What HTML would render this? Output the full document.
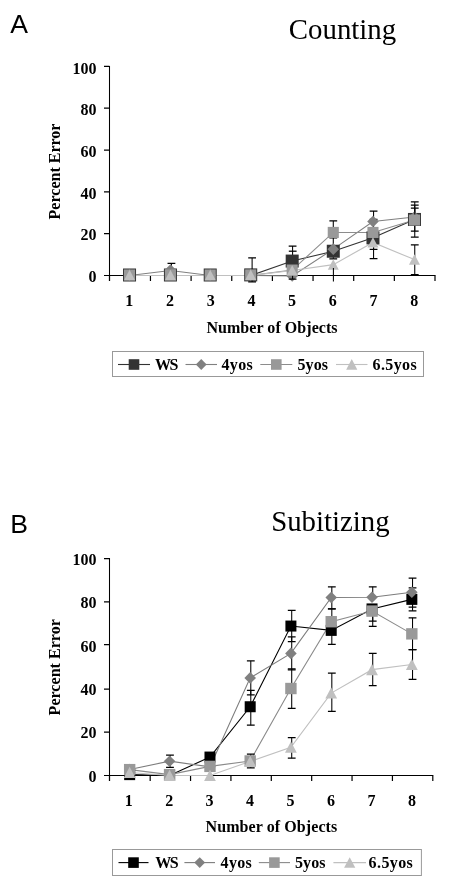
<!DOCTYPE html>
<html><head><meta charset="utf-8"><title>Figure</title>
<style>
html,body{margin:0;padding:0;background:#fff;}
body{width:450px;height:885px;overflow:hidden;}
svg{display:block;will-change:transform;}
text{font-family:"Liberation Serif",serif;fill:#000;}
.b{font-weight:bold;font-size:16px;}
.t{font-size:29.6px;}
.p{font-family:"Liberation Sans",sans-serif;font-size:26.6px;}
</style></head><body>
<svg width="450" height="885" viewBox="0 0 450 885">
<rect width="450" height="885" fill="#fff"/>
<text x="10.3" y="33" class="p">A</text>
<text class="t" transform="translate(288.8,39.3) scale(0.975,1)">Counting</text>
<text class="b" text-anchor="middle" transform="translate(60.0,171.5) rotate(-90) scale(1.0,1)">Percent Error</text>
<path d="M109.5 65.9 V281.0 M104.0 275.5 H435.5" stroke="#000" stroke-width="1.05" fill="none"/>
<path d="M104.0 275.50 H109.5 M104.0 233.68 H109.5 M104.0 191.86 H109.5 M104.0 150.04 H109.5 M104.0 108.22 H109.5 M104.0 66.40 H109.5 M109.50 275.5 V281.0 M150.45 275.5 V281.0 M191.10 275.5 V281.0 M231.75 275.5 V281.0 M272.40 275.5 V281.0 M313.05 275.5 V281.0 M353.70 275.5 V281.0 M394.35 275.5 V281.0 M435.00 275.5 V281.0 " stroke="#000" stroke-width="1.2" fill="none"/>
<polyline points="129.54,275.50 170.43,275.50 210.22,275.50 250.71,275.50 292.19,261.07 333.28,251.24 372.97,237.86 414.46,219.46" fill="none" stroke="#333333" stroke-width="1.1"/>
<polyline points="129.54,275.50 170.43,270.48 210.22,275.50 250.71,275.50 292.19,275.92 333.28,249.15 372.97,221.55 414.46,216.95" fill="none" stroke="#808080" stroke-width="1.1"/>
<polyline points="129.54,275.50 170.43,275.50 210.22,275.50 250.71,275.50 292.19,270.06 333.28,232.43 372.97,232.43 414.46,220.09" fill="none" stroke="#8c8c8c" stroke-width="1.1"/>
<polyline points="129.54,275.50 170.43,275.50 210.22,275.50 250.71,275.50 292.19,270.48 333.28,264.63 372.97,242.46 414.46,259.61" fill="none" stroke="#c0c0c0" stroke-width="1.1"/>
<path d="M288.8 251.2 H296.6" stroke="#000" stroke-width="1.25"/>
<path d="M292.59 261.07 V246.02 M333.28 251.24 V237.86 M333.28 251.24 V258.77 M373.57 237.86 V219.46 M373.57 237.86 V249.36 M414.76 219.46 V201.90 M414.76 219.46 V237.03 " stroke="#000" stroke-width="1.05" fill="none"/>
<path d="M288.69 246.02 H296.49 M329.38 237.86 H337.18 M329.38 258.77 H337.18 M369.67 219.46 H377.47 M369.67 249.36 H377.47 M410.86 201.90 H418.66 M410.86 237.03 H418.66 " stroke="#000" stroke-width="1.25" fill="none"/>
<rect x="123.04" y="268.50" width="13" height="13" fill="#333333"/>
<rect x="163.93" y="268.50" width="13" height="13" fill="#333333"/>
<rect x="203.72" y="268.50" width="13" height="13" fill="#333333"/>
<rect x="244.21" y="268.40" width="13" height="13" fill="#333333"/>
<rect x="285.69" y="254.57" width="13" height="13" fill="#333333"/>
<rect x="326.78" y="244.74" width="13" height="13" fill="#333333"/>
<rect x="366.47" y="231.36" width="13" height="13" fill="#333333"/>
<rect x="407.96" y="212.96" width="13" height="13" fill="#333333"/>
<path d="M171.43 270.48 V263.37 M252.11 275.50 V257.94 M252.11 275.50 V281.98 M373.57 221.55 V211.10 M414.76 216.95 V205.24 " stroke="#000" stroke-width="1.05" fill="none"/>
<path d="M167.53 263.37 H175.33 M248.21 257.94 H256.01 M248.21 281.98 H256.01 M369.67 211.10 H377.47 M410.86 205.24 H418.66 " stroke="#000" stroke-width="1.25" fill="none"/>
<path d="M129.54 269.20 L135.34 275.00 L129.54 280.80 L123.74 275.00Z" fill="#808080"/>
<path d="M170.43 264.18 L176.23 269.98 L170.43 275.78 L164.63 269.98Z" fill="#808080"/>
<path d="M210.22 269.20 L216.02 275.00 L210.22 280.80 L204.42 275.00Z" fill="#808080"/>
<path d="M250.71 269.10 L256.51 274.90 L250.71 280.70 L244.91 274.90Z" fill="#808080"/>
<path d="M292.19 270.12 L297.99 275.92 L292.19 281.72 L286.39 275.92Z" fill="#808080"/>
<path d="M333.28 243.35 L339.08 249.15 L333.28 254.95 L327.48 249.15Z" fill="#808080"/>
<path d="M372.97 215.75 L378.77 221.55 L372.97 227.35 L367.17 221.55Z" fill="#808080"/>
<path d="M414.46 211.15 L420.26 216.95 L414.46 222.75 L408.66 216.95Z" fill="#808080"/>
<path d="M292.59 270.06 V279.05 M333.28 232.43 V220.92 M414.76 220.09 V208.17 M414.76 220.09 V231.17 " stroke="#000" stroke-width="1.05" fill="none"/>
<path d="M288.69 279.05 H296.49 M329.38 220.92 H337.18 M410.86 208.17 H418.66 M410.86 231.17 H418.66 " stroke="#000" stroke-width="1.25" fill="none"/>
<rect x="123.99" y="269.45" width="11.1" height="11.1" fill="#999999"/>
<rect x="164.88" y="269.45" width="11.1" height="11.1" fill="#999999"/>
<rect x="204.67" y="269.45" width="11.1" height="11.1" fill="#999999"/>
<rect x="245.16" y="269.35" width="11.1" height="11.1" fill="#999999"/>
<rect x="286.64" y="264.51" width="11.1" height="11.1" fill="#999999"/>
<rect x="327.73" y="226.88" width="11.1" height="11.1" fill="#999999"/>
<rect x="367.42" y="226.88" width="11.1" height="11.1" fill="#999999"/>
<rect x="408.91" y="214.54" width="11.1" height="11.1" fill="#999999"/>
<path d="M373.57 242.46 V258.56 M414.76 259.61 V244.97 M414.76 259.61 V274.66 " stroke="#000" stroke-width="1.05" fill="none"/>
<path d="M369.67 258.56 H377.47 M410.86 244.97 H418.66 M410.86 274.66 H418.66 " stroke="#000" stroke-width="1.25" fill="none"/>
<path d="M129.54 269.69 L135.04 280.13 L124.04 280.13Z" fill="#c0c0c0"/>
<path d="M170.43 269.69 L175.93 280.13 L164.93 280.13Z" fill="#c0c0c0"/>
<path d="M210.22 269.69 L215.72 280.13 L204.72 280.13Z" fill="#c0c0c0"/>
<path d="M250.71 269.59 L256.21 280.03 L245.21 280.03Z" fill="#c0c0c0"/>
<path d="M292.19 265.17 L297.69 275.61 L286.69 275.61Z" fill="#c0c0c0"/>
<path d="M333.28 259.31 L338.78 269.75 L327.78 269.75Z" fill="#c0c0c0"/>
<path d="M372.97 237.15 L378.47 247.59 L367.47 247.59Z" fill="#c0c0c0"/>
<path d="M414.46 254.30 L419.96 264.73 L408.96 264.73Z" fill="#c0c0c0"/>
<path d="M333.4 268 V281.6" stroke="#000" stroke-width="1.05"/>
<text x="96.6" y="281.90" class="b" text-anchor="end">0</text>
<text x="96.6" y="240.24" class="b" text-anchor="end">20</text>
<text x="96.6" y="198.58" class="b" text-anchor="end">40</text>
<text x="96.6" y="156.92" class="b" text-anchor="end">60</text>
<text x="96.6" y="115.26" class="b" text-anchor="end">80</text>
<text x="96.6" y="73.60" class="b" text-anchor="end">100</text>
<text x="129.34" y="306.0" class="b" text-anchor="middle">1</text>
<text x="170.03" y="306.0" class="b" text-anchor="middle">2</text>
<text x="210.72" y="306.0" class="b" text-anchor="middle">3</text>
<text x="251.41" y="306.0" class="b" text-anchor="middle">4</text>
<text x="292.09" y="306.0" class="b" text-anchor="middle">5</text>
<text x="332.78" y="306.0" class="b" text-anchor="middle">6</text>
<text x="373.47" y="306.0" class="b" text-anchor="middle">7</text>
<text x="414.16" y="306.0" class="b" text-anchor="middle">8</text>
<text x="206.4" y="332.9" class="b" textLength="131.2" lengthAdjust="spacing">Number of Objects</text>
<rect x="112.5" y="351.5" width="311.0" height="25.0" fill="#fff" stroke="#999" stroke-width="1"/>
<path d="M118 364.5 H150" stroke="#333333" stroke-width="1.1"/>
<rect x="128.70" y="359.20" width="10.6" height="10.6" fill="#333333"/>
<text x="155" y="369.9" class="b" textLength="23.4" lengthAdjust="spacing">WS</text>
<path d="M185.5 364.5 H217" stroke="#808080" stroke-width="1.1"/>
<path d="M201.25 359.10 L206.65 364.50 L201.25 369.90 L195.85 364.50Z" fill="#808080"/>
<text x="221.5" y="369.9" class="b" textLength="31.2" lengthAdjust="spacing">4yos</text>
<path d="M260.3 364.5 H292.3" stroke="#8c8c8c" stroke-width="1.1"/>
<rect x="271.00" y="359.20" width="10.6" height="10.6" fill="#999999"/>
<text x="297.5" y="369.9" class="b" textLength="30.6" lengthAdjust="spacing">5yos</text>
<path d="M336 364.5 H367.5" stroke="#c0c0c0" stroke-width="1.1"/>
<path d="M351.75 359.09 L357.35 369.72 L346.15 369.72Z" fill="#c0c0c0"/>
<text x="372.5" y="369.9" class="b" textLength="44.2" lengthAdjust="spacing">6.5yos</text>
<text x="10.3" y="532.7" class="p">B</text>
<text class="t" transform="translate(271.2,531) scale(0.973,1)">Subitizing</text>
<text class="b" text-anchor="middle" transform="translate(59.6,667.3) rotate(-90) scale(1.005,1)">Percent Error</text>
<path d="M109.5 558.1 V781.0 M104.0 775.5 H433.3" stroke="#000" stroke-width="1.05" fill="none"/>
<path d="M104.0 775.50 H109.5 M104.0 732.10 H109.5 M104.0 689.20 H109.5 M104.0 644.60 H109.5 M104.0 601.80 H109.5 M104.0 558.60 H109.5 M109.50 775.5 V781.0 M150.18 775.5 V781.0 M190.55 775.5 V781.0 M230.93 775.5 V781.0 M271.30 775.5 V781.0 M311.68 775.5 V781.0 M352.05 775.5 V781.0 M392.43 775.5 V781.0 M432.80 775.5 V781.0 " stroke="#000" stroke-width="1.2" fill="none"/>
<polyline points="129.66,774.63 169.57,775.50 209.98,757.06 250.19,706.74 290.91,626.06 331.22,630.39 372.03,608.92 411.84,599.38" fill="none" stroke="#000000" stroke-width="1.1"/>
<polyline points="129.66,769.43 169.57,761.18 209.98,766.82 250.19,677.89 290.91,653.39 331.22,597.43 372.03,597.21 411.84,592.22" fill="none" stroke="#7c7c7c" stroke-width="1.1"/>
<polyline points="129.66,769.64 169.57,774.63 209.98,766.39 250.19,760.97 290.91,688.52 331.22,621.72 372.03,611.09 411.84,633.86" fill="none" stroke="#8a8a8a" stroke-width="1.1"/>
<polyline points="129.66,772.46 169.57,775.50 209.98,775.50 250.19,761.40 290.91,747.30 331.22,693.08 372.03,669.65 411.84,664.45" fill="none" stroke="#c0c0c0" stroke-width="1.1"/>

<path d="M250.79 706.74 V690.48 M250.79 706.74 V725.18 M291.71 626.06 V610.44 M291.71 626.06 V641.67 M331.82 630.39 V644.49 M372.73 608.92 V626.27 M412.54 599.38 V587.88 M412.54 599.38 V610.87 " stroke="#000" stroke-width="1.05" fill="none"/>
<path d="M246.89 690.48 H254.69 M246.89 725.18 H254.69 M287.81 610.44 H295.61 M287.81 641.67 H295.61 M327.92 644.49 H335.72 M368.83 626.27 H376.63 M408.64 587.88 H416.44 M408.64 610.87 H416.44 " stroke="#000" stroke-width="1.25" fill="none"/>
<rect x="124.16" y="769.13" width="11" height="11" fill="#000000"/>
<rect x="164.07" y="770.00" width="11" height="11" fill="#000000"/>
<rect x="204.48" y="751.56" width="11" height="11" fill="#000000"/>
<rect x="244.69" y="701.24" width="11" height="11" fill="#000000"/>
<rect x="285.41" y="620.56" width="11" height="11" fill="#000000"/>
<rect x="325.72" y="624.89" width="11" height="11" fill="#000000"/>
<rect x="366.53" y="603.42" width="11" height="11" fill="#000000"/>
<rect x="406.34" y="593.88" width="11" height="11" fill="#000000"/>
<path d="M169.97 761.18 V755.11 M169.97 761.18 V767.26 M250.79 677.89 V660.98 M250.79 677.89 V694.81 M291.71 653.39 V636.90 M291.71 653.39 V669.87 M331.82 597.43 V586.80 M331.82 597.43 V608.92 M372.73 597.21 V586.80 M412.54 592.22 V578.12 M412.54 592.22 V607.19 " stroke="#000" stroke-width="1.05" fill="none"/>
<path d="M166.07 755.11 H173.87 M166.07 767.26 H173.87 M246.89 660.98 H254.69 M246.89 694.81 H254.69 M287.81 636.90 H295.61 M287.81 669.87 H295.61 M327.92 586.80 H335.72 M327.92 608.92 H335.72 M368.83 586.80 H376.63 M408.64 578.12 H416.44 M408.64 607.19 H416.44 " stroke="#000" stroke-width="1.25" fill="none"/>
<path d="M129.66 763.63 L135.46 769.43 L129.66 775.23 L123.86 769.43Z" fill="#808080"/>
<path d="M169.57 755.38 L175.37 761.18 L169.57 766.98 L163.77 761.18Z" fill="#808080"/>
<path d="M209.98 761.02 L215.78 766.82 L209.98 772.62 L204.18 766.82Z" fill="#808080"/>
<path d="M250.19 672.10 L255.99 677.89 L250.19 683.69 L244.39 677.89Z" fill="#808080"/>
<path d="M290.91 647.59 L296.71 653.39 L290.91 659.19 L285.11 653.39Z" fill="#808080"/>
<path d="M331.22 591.63 L337.02 597.43 L331.22 603.23 L325.42 597.43Z" fill="#808080"/>
<path d="M372.03 591.41 L377.83 597.21 L372.03 603.01 L366.23 597.21Z" fill="#808080"/>
<path d="M411.84 586.42 L417.64 592.22 L411.84 598.02 L406.04 592.22Z" fill="#808080"/>
<path d="M250.79 760.97 V754.14 M250.79 760.97 V767.80 M291.71 688.52 V668.79 M291.71 688.52 V708.26 M331.82 621.72 V608.92 M372.73 611.09 V621.07 M412.54 633.86 V617.81 M412.54 633.86 V649.70 " stroke="#000" stroke-width="1.05" fill="none"/>
<path d="M246.89 754.14 H254.69 M246.89 767.80 H254.69 M287.81 668.79 H295.61 M287.81 708.26 H295.61 M327.92 608.92 H335.72 M368.83 621.07 H376.63 M408.64 617.81 H416.44 M408.64 649.70 H416.44 " stroke="#000" stroke-width="1.25" fill="none"/>
<rect x="123.96" y="763.94" width="11.4" height="11.4" fill="#999999"/>
<rect x="163.87" y="768.93" width="11.4" height="11.4" fill="#999999"/>
<rect x="204.28" y="760.69" width="11.4" height="11.4" fill="#999999"/>
<rect x="244.49" y="755.27" width="11.4" height="11.4" fill="#999999"/>
<rect x="285.21" y="682.82" width="11.4" height="11.4" fill="#999999"/>
<rect x="325.52" y="616.02" width="11.4" height="11.4" fill="#999999"/>
<rect x="366.33" y="605.39" width="11.4" height="11.4" fill="#999999"/>
<rect x="406.14" y="628.16" width="11.4" height="11.4" fill="#999999"/>
<path d="M291.71 747.30 V737.54 M291.71 747.30 V758.15 M331.82 693.08 V673.12 M331.82 693.08 V711.30 M372.73 669.65 V653.39 M372.73 669.65 V685.70 M412.54 664.45 V649.70 M412.54 664.45 V679.41 " stroke="#000" stroke-width="1.05" fill="none"/>
<path d="M287.81 737.54 H295.61 M287.81 758.15 H295.61 M327.92 673.12 H335.72 M327.92 711.30 H335.72 M368.83 653.39 H376.63 M368.83 685.70 H376.63 M408.64 649.70 H416.44 M408.64 679.41 H416.44 " stroke="#000" stroke-width="1.25" fill="none"/>
<path d="M129.66 766.76 L135.56 777.96 L123.76 777.96Z" fill="#c0c0c0"/>
<path d="M169.57 769.80 L175.47 781.00 L163.67 781.00Z" fill="#c0c0c0"/>
<path d="M209.98 769.80 L215.88 781.00 L204.08 781.00Z" fill="#c0c0c0"/>
<path d="M250.19 755.70 L256.09 766.90 L244.29 766.90Z" fill="#c0c0c0"/>
<path d="M290.91 741.60 L296.81 752.80 L285.01 752.80Z" fill="#c0c0c0"/>
<path d="M331.22 687.38 L337.12 698.58 L325.32 698.58Z" fill="#c0c0c0"/>
<path d="M372.03 663.95 L377.93 675.15 L366.13 675.15Z" fill="#c0c0c0"/>
<path d="M411.84 658.75 L417.74 669.95 L405.94 669.95Z" fill="#c0c0c0"/>

<text x="96.6" y="781.50" class="b" text-anchor="end">0</text>
<text x="96.6" y="738.18" class="b" text-anchor="end">20</text>
<text x="96.6" y="694.86" class="b" text-anchor="end">40</text>
<text x="96.6" y="651.54" class="b" text-anchor="end">60</text>
<text x="96.6" y="608.22" class="b" text-anchor="end">80</text>
<text x="96.6" y="564.90" class="b" text-anchor="end">100</text>
<text x="128.70" y="806.0" class="b" text-anchor="middle">1</text>
<text x="169.16" y="806.0" class="b" text-anchor="middle">2</text>
<text x="209.62" y="806.0" class="b" text-anchor="middle">3</text>
<text x="250.08" y="806.0" class="b" text-anchor="middle">4</text>
<text x="290.54" y="806.0" class="b" text-anchor="middle">5</text>
<text x="331.00" y="806.0" class="b" text-anchor="middle">6</text>
<text x="371.46" y="806.0" class="b" text-anchor="middle">7</text>
<text x="411.92" y="806.0" class="b" text-anchor="middle">8</text>
<text x="205.6" y="832.1" class="b" textLength="131.6" lengthAdjust="spacing">Number of Objects</text>
<rect x="112.5" y="849.5" width="308.9" height="26.0" fill="#fff" stroke="#999" stroke-width="1"/>
<path d="M118.5 862.6 H148.5" stroke="#000000" stroke-width="1.1"/>
<rect x="128.20" y="857.30" width="10.6" height="10.6" fill="#000000"/>
<text x="155.3" y="868.0" class="b" textLength="23.4" lengthAdjust="spacing">WS</text>
<path d="M184.4 862.6 H215" stroke="#7c7c7c" stroke-width="1.1"/>
<path d="M199.70 857.20 L205.10 862.60 L199.70 868.00 L194.30 862.60Z" fill="#808080"/>
<text x="220.6" y="868.0" class="b" textLength="31.2" lengthAdjust="spacing">4yos</text>
<path d="M258.8 862.6 H290" stroke="#8a8a8a" stroke-width="1.1"/>
<rect x="269.10" y="857.30" width="10.6" height="10.6" fill="#999999"/>
<text x="295" y="868.0" class="b" textLength="30.6" lengthAdjust="spacing">5yos</text>
<path d="M333.4 862.6 H366" stroke="#c0c0c0" stroke-width="1.1"/>
<path d="M349.70 857.19 L355.30 867.82 L344.10 867.82Z" fill="#c0c0c0"/>
<text x="368.6" y="868.0" class="b" textLength="44.2" lengthAdjust="spacing">6.5yos</text>
</svg>
</body></html>
